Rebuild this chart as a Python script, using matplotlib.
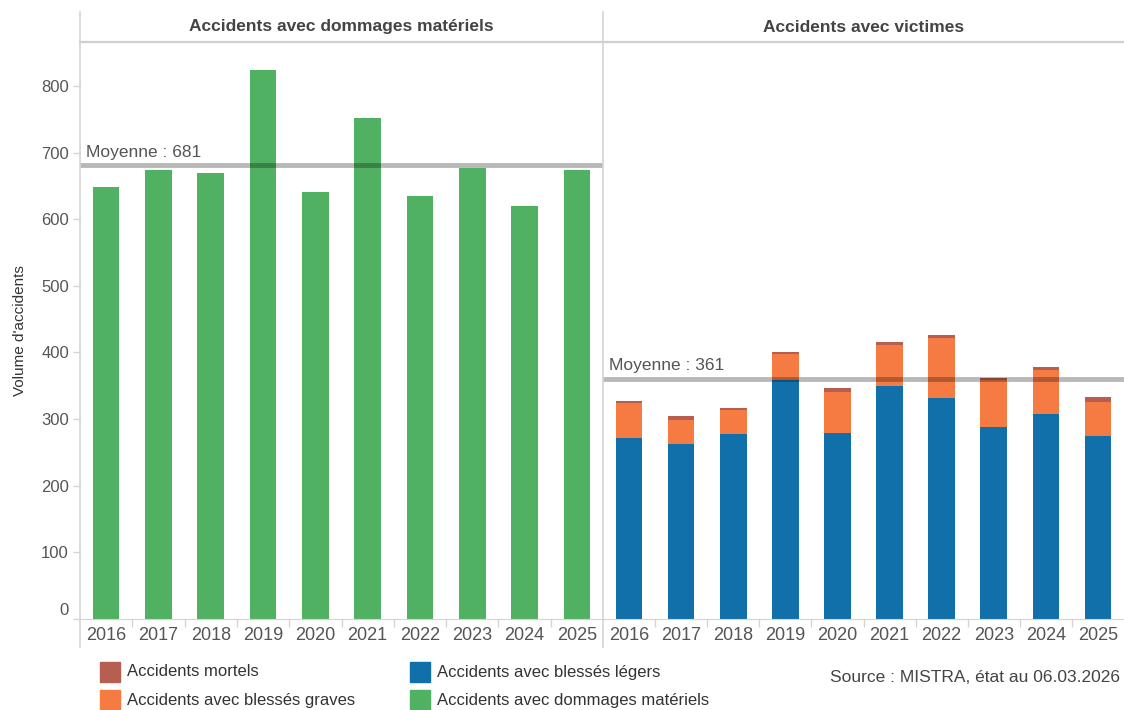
import matplotlib
matplotlib.use("Agg")
import matplotlib.pyplot as plt
from matplotlib.lines import Line2D
from matplotlib.patches import Rectangle
from matplotlib.transforms import ScaledTranslation
import numpy as np

plt.rcParams['font.family'] = ['Liberation Sans', 'DejaVu Sans']

years = ['2016', '2017', '2018', '2019', '2020', '2021', '2022', '2023', '2024', '2025']
dommages = [648, 674, 669, 824, 641, 752, 635, 677, 620, 674]
legers = [272, 263, 278, 358, 279, 349, 332, 288, 308, 275]
graves = [52, 36, 36, 39, 61, 62, 90, 70, 66, 50]
mortels = [3, 5, 3, 3, 7, 4, 4, 4, 4, 8]

panel_titles = ['Accidents avec dommages matériels', 'Accidents avec victimes']
legend_labels = ['Accidents mortels', 'Accidents avec blessés graves',
                 'Accidents avec blessés légers', 'Accidents avec dommages matériels']
source_text = 'Source : MISTRA, état au 06.03.2026'
ylabel = "Volume d'accidents"

c_green = '#50b162'
c_blue = '#1170aa'
c_orange = '#f57b42'
c_red = '#b75e52'
txt = '#555555'
grid_c = '#d4d4d4'

W, H = 1124, 710
fig = plt.figure(figsize=(W / 100, H / 100), dpi=100)

def fx(px):
    return px / W

def fy(py):
    return 1 - py / H

ax_top, ax_bot = 42, 619
axL = fig.add_axes([fx(80), fy(ax_bot), fx(603 - 80), (ax_bot - ax_top) / H])
axR = fig.add_axes([fx(603), fy(ax_bot), fx(1124 - 603), (ax_bot - ax_top) / H])

x = np.arange(len(years))
bw = 0.51
ymax = 866

axL.bar(x, dommages, width=bw, color=c_green, zorder=2)
l = np.array(legers); g = np.array(graves); m = np.array(mortels)
axR.bar(x, l, width=bw, color=c_blue, zorder=2)
axR.bar(x, g, width=bw, bottom=l, color=c_orange, zorder=2)
axR.bar(x, m, width=bw, bottom=l + g, color=c_red, zorder=2)

meanL = np.mean(dommages)
meanR = np.mean(l + g + m)

for ax, mean in ((axL, meanL), (axR, meanR)):
    ax.set_xlim(-0.5, len(years) - 0.5)
    ax.set_ylim(0, ymax)
    ax.axhline(mean, color='black', alpha=0.28, lw=3.5, zorder=3)
    ax.text(-0.38, mean + 8, f'Moyenne : {mean:.0f}', fontsize=12.5, color=txt,
            ha='left', va='bottom', zorder=4)
    ax.set_xticks(x)
    ax.set_xticklabels(years, fontsize=13, color=txt)
    ax.set_xticks(np.arange(0.5, len(years) - 1, 1), minor=True)
    ax.tick_params(axis='x', which='major', length=0, pad=6)
    ax.tick_params(axis='x', which='minor', length=6, color=grid_c, width=1)
    ax.spines['right'].set_visible(False)
    ax.spines['bottom'].set_color(grid_c)
    ax.spines['top'].set_color('#cfcfcf')
    ax.spines['top'].set_linewidth(1.6)
    ax.spines['left'].set_visible(False)

axL.set_yticks(np.arange(0, 801, 100))
axL.tick_params(axis='y', labelsize=12, colors=txt, length=5, width=1, pad=3)
axL.tick_params(axis='y', color=grid_c)
axR.set_yticks([])

# the zero label sits slightly above its tick in the reference
fig.canvas.draw()
lab0 = axL.get_yticklabels()[0]
lab0.set_transform(lab0.get_transform() + ScaledTranslation(0, 10 / 100, fig.dpi_scale_trans))

axL.set_ylabel(ylabel, fontsize=11, color='#333333', labelpad=10)

# panel frame lines (header band and dividers)
for px in (80, 603):
    fig.add_artist(Line2D([fx(px), fx(px)], [fy(12), fy(647)], color=grid_c, lw=1.2))

fig.text(fx(341), fy(27), panel_titles[0], fontsize=12.5, fontweight='bold',
         color='#444444', ha='center', va='center')
fig.text(fx(864), fy(27), panel_titles[1], fontsize=12.5, fontweight='bold',
         color='#444444', ha='center', va='center')

# legend
leg_items = [(100, 662, c_red, legend_labels[0]),
             (100, 690, c_orange, legend_labels[1]),
             (410, 662, c_blue, legend_labels[2]),
             (410, 690, c_green, legend_labels[3])]
for px, py, col, lab in leg_items:
    fig.add_artist(Rectangle((fx(px), fy(py + 20)), fx(20), 20 / H, color=col,
                             transform=fig.transFigure))
    fig.text(fx(px + 27), fy(py + 10), lab, fontsize=12, color='#333333',
             ha='left', va='center')

fig.text(fx(1120), fy(678), source_text, fontsize=12.5, color='#444444',
         ha='right', va='center')

fig.savefig('out.png', dpi=100)
